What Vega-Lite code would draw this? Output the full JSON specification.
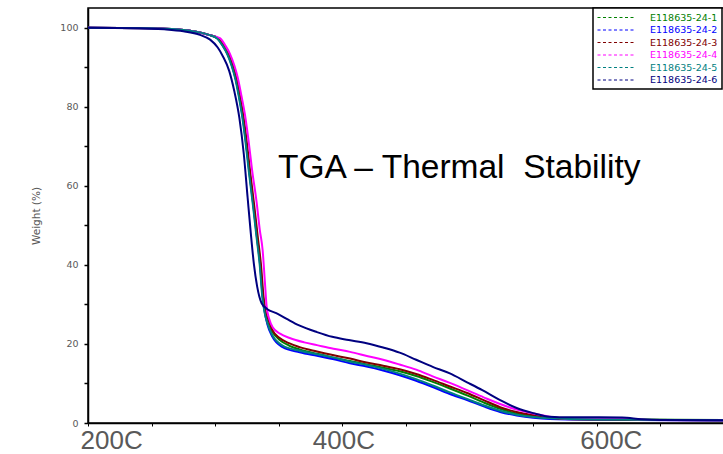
{
"$schema": "https://vega.github.io/schema/vega-lite/v6.json",
"width": 636, "height": 415,
"autosize": "none",
"padding": {"left": 88, "top": 8, "right": 0, "bottom": 31},
"background": "white",
"config": {"view": {"stroke": "black", "strokeWidth": 1.5}, "axis": {"grid": false}},
"layer": [
{
"data": {"values": [
{"s":"E118635-24-1","T":200,"W":100},{"s":"E118635-24-1","T":250,"W":99.9},{"s":"E118635-24-1","T":270,"W":99.6},{"s":"E118635-24-1","T":285,"W":99.0},{"s":"E118635-24-1","T":295,"W":98.2},{"s":"E118635-24-1","T":302,"W":97.3},{"s":"E118635-24-1","T":306,"W":95.6},{"s":"E118635-24-1","T":310,"W":93.3},{"s":"E118635-24-1","T":313.5,"W":90.3},{"s":"E118635-24-1","T":316.5,"W":86.8},{"s":"E118635-24-1","T":319,"W":82.7},{"s":"E118635-24-1","T":321.5,"W":78},{"s":"E118635-24-1","T":324,"W":72},{"s":"E118635-24-1","T":327,"W":63.5},{"s":"E118635-24-1","T":330,"W":55.5},{"s":"E118635-24-1","T":333,"W":47},{"s":"E118635-24-1","T":335.5,"W":40},{"s":"E118635-24-1","T":337.5,"W":32},{"s":"E118635-24-1","T":339.2,"W":28},{"s":"E118635-24-1","T":341,"W":25.6},{"s":"E118635-24-1","T":345,"W":23.0},{"s":"E118635-24-1","T":350.7,"W":21.0},{"s":"E118635-24-1","T":358,"W":19.6},{"s":"E118635-24-1","T":366.4,"W":18.6},{"s":"E118635-24-1","T":380,"W":17.5},{"s":"E118635-24-1","T":392,"W":16.6},{"s":"E118635-24-1","T":406,"W":15.7},{"s":"E118635-24-1","T":419,"W":14.8},{"s":"E118635-24-1","T":432,"W":14.0},{"s":"E118635-24-1","T":445,"W":13.1},{"s":"E118635-24-1","T":458,"W":11.9},{"s":"E118635-24-1","T":471,"W":10.4},{"s":"E118635-24-1","T":484,"W":8.8},{"s":"E118635-24-1","T":498,"W":7.0},{"s":"E118635-24-1","T":511,"W":5.2},{"s":"E118635-24-1","T":524,"W":3.6},{"s":"E118635-24-1","T":537,"W":2.4},{"s":"E118635-24-1","T":550,"W":1.7},{"s":"E118635-24-1","T":563,"W":1.3},{"s":"E118635-24-1","T":575,"W":1.1},{"s":"E118635-24-1","T":620,"W":0.9},{"s":"E118635-24-1","T":700,"W":0.75},
{"s":"E118635-24-2","T":200,"W":100},{"s":"E118635-24-2","T":250,"W":99.9},{"s":"E118635-24-2","T":270,"W":99.6},{"s":"E118635-24-2","T":285,"W":99.0},{"s":"E118635-24-2","T":295,"W":98.2},{"s":"E118635-24-2","T":301.8,"W":97.3},{"s":"E118635-24-2","T":305.8,"W":95.6},{"s":"E118635-24-2","T":309.8,"W":93.3},{"s":"E118635-24-2","T":313.3,"W":90.3},{"s":"E118635-24-2","T":316.3,"W":86.8},{"s":"E118635-24-2","T":318.8,"W":82.7},{"s":"E118635-24-2","T":321.3,"W":78},{"s":"E118635-24-2","T":323.8,"W":72},{"s":"E118635-24-2","T":326.8,"W":63.5},{"s":"E118635-24-2","T":329.8,"W":55.5},{"s":"E118635-24-2","T":332.8,"W":47},{"s":"E118635-24-2","T":335.3,"W":40},{"s":"E118635-24-2","T":337.3,"W":32},{"s":"E118635-24-2","T":339,"W":28},{"s":"E118635-24-2","T":341,"W":25.0},{"s":"E118635-24-2","T":345,"W":21.8},{"s":"E118635-24-2","T":353,"W":19.2},{"s":"E118635-24-2","T":366.4,"W":17.9},{"s":"E118635-24-2","T":380,"W":17.0},{"s":"E118635-24-2","T":392.4,"W":16.2},{"s":"E118635-24-2","T":406,"W":15.1},{"s":"E118635-24-2","T":419,"W":14.3},{"s":"E118635-24-2","T":432,"W":13.3},{"s":"E118635-24-2","T":445,"W":12.1},{"s":"E118635-24-2","T":458,"W":10.7},{"s":"E118635-24-2","T":471,"W":9.1},{"s":"E118635-24-2","T":484,"W":7.4},{"s":"E118635-24-2","T":498,"W":5.8},{"s":"E118635-24-2","T":511,"W":4.2},{"s":"E118635-24-2","T":524,"W":2.8},{"s":"E118635-24-2","T":537,"W":1.9},{"s":"E118635-24-2","T":550,"W":1.3},{"s":"E118635-24-2","T":563,"W":1.0},{"s":"E118635-24-2","T":600,"W":0.8},{"s":"E118635-24-2","T":700,"W":0.65},
{"s":"E118635-24-3","T":200,"W":100},{"s":"E118635-24-3","T":250,"W":99.9},{"s":"E118635-24-3","T":270,"W":99.6},{"s":"E118635-24-3","T":285,"W":99.0},{"s":"E118635-24-3","T":295,"W":98.2},{"s":"E118635-24-3","T":302.5,"W":97.3},{"s":"E118635-24-3","T":306.5,"W":95.6},{"s":"E118635-24-3","T":310.5,"W":93.3},{"s":"E118635-24-3","T":314,"W":90.3},{"s":"E118635-24-3","T":317,"W":86.8},{"s":"E118635-24-3","T":319.5,"W":82.7},{"s":"E118635-24-3","T":322,"W":78},{"s":"E118635-24-3","T":324.5,"W":72},{"s":"E118635-24-3","T":327.5,"W":63.5},{"s":"E118635-24-3","T":330.5,"W":55.5},{"s":"E118635-24-3","T":333.5,"W":47},{"s":"E118635-24-3","T":336,"W":40},{"s":"E118635-24-3","T":338,"W":32},{"s":"E118635-24-3","T":339.8,"W":28},{"s":"E118635-24-3","T":341.8,"W":26.2},{"s":"E118635-24-3","T":345,"W":23.5},{"s":"E118635-24-3","T":350.7,"W":21.5},{"s":"E118635-24-3","T":358,"W":20.2},{"s":"E118635-24-3","T":366.4,"W":19.2},{"s":"E118635-24-3","T":380,"W":18.1},{"s":"E118635-24-3","T":392.4,"W":17.2},{"s":"E118635-24-3","T":406,"W":16.3},{"s":"E118635-24-3","T":419,"W":15.3},{"s":"E118635-24-3","T":432,"W":14.5},{"s":"E118635-24-3","T":445,"W":13.6},{"s":"E118635-24-3","T":458,"W":12.4},{"s":"E118635-24-3","T":471,"W":10.9},{"s":"E118635-24-3","T":484,"W":9.3},{"s":"E118635-24-3","T":498,"W":7.6},{"s":"E118635-24-3","T":511,"W":5.8},{"s":"E118635-24-3","T":524,"W":4.0},{"s":"E118635-24-3","T":537,"W":2.8},{"s":"E118635-24-3","T":550,"W":2.0},{"s":"E118635-24-3","T":563,"W":1.4},{"s":"E118635-24-3","T":575,"W":1.0},{"s":"E118635-24-3","T":620,"W":0.85},{"s":"E118635-24-3","T":700,"W":0.7},
{"s":"E118635-24-4","T":200,"W":100},{"s":"E118635-24-4","T":250,"W":99.9},{"s":"E118635-24-4","T":270,"W":99.6},{"s":"E118635-24-4","T":285,"W":99.0},{"s":"E118635-24-4","T":295,"W":98.2},{"s":"E118635-24-4","T":303.7,"W":97.4},{"s":"E118635-24-4","T":308,"W":95.5},{"s":"E118635-24-4","T":311.6,"W":93.4},{"s":"E118635-24-4","T":315,"W":90.5},{"s":"E118635-24-4","T":317.8,"W":87.3},{"s":"E118635-24-4","T":320.5,"W":83},{"s":"E118635-24-4","T":323.3,"W":78.2},{"s":"E118635-24-4","T":326,"W":72},{"s":"E118635-24-4","T":329,"W":64},{"s":"E118635-24-4","T":332.5,"W":56},{"s":"E118635-24-4","T":335,"W":49},{"s":"E118635-24-4","T":337.3,"W":43.7},{"s":"E118635-24-4","T":339,"W":36},{"s":"E118635-24-4","T":340.5,"W":29.3},{"s":"E118635-24-4","T":342.5,"W":26.3},{"s":"E118635-24-4","T":345.2,"W":24.2},{"s":"E118635-24-4","T":351,"W":22.6},{"s":"E118635-24-4","T":358.6,"W":21.5},{"s":"E118635-24-4","T":370,"W":20.4},{"s":"E118635-24-4","T":380,"W":19.7},{"s":"E118635-24-4","T":393,"W":18.8},{"s":"E118635-24-4","T":406,"W":18.0},{"s":"E118635-24-4","T":420,"W":16.9},{"s":"E118635-24-4","T":432,"W":16.0},{"s":"E118635-24-4","T":445,"W":14.8},{"s":"E118635-24-4","T":458,"W":13.5},{"s":"E118635-24-4","T":471,"W":11.8},{"s":"E118635-24-4","T":484,"W":10.2},{"s":"E118635-24-4","T":498,"W":8.3},{"s":"E118635-24-4","T":511,"W":6.5},{"s":"E118635-24-4","T":524,"W":4.8},{"s":"E118635-24-4","T":537,"W":3.4},{"s":"E118635-24-4","T":550,"W":2.4},{"s":"E118635-24-4","T":563,"W":1.6},{"s":"E118635-24-4","T":575,"W":1.1},{"s":"E118635-24-4","T":625,"W":1.0},{"s":"E118635-24-4","T":640,"W":0.75},{"s":"E118635-24-4","T":700,"W":0.7},
{"s":"E118635-24-5","T":200,"W":100},{"s":"E118635-24-5","T":250,"W":99.9},{"s":"E118635-24-5","T":270,"W":99.6},{"s":"E118635-24-5","T":285,"W":99.0},{"s":"E118635-24-5","T":295,"W":98.2},{"s":"E118635-24-5","T":301.5,"W":97.3},{"s":"E118635-24-5","T":305.5,"W":95.6},{"s":"E118635-24-5","T":309.5,"W":93.3},{"s":"E118635-24-5","T":313,"W":90.3},{"s":"E118635-24-5","T":316,"W":86.8},{"s":"E118635-24-5","T":318.5,"W":82.7},{"s":"E118635-24-5","T":321,"W":78},{"s":"E118635-24-5","T":323.5,"W":72},{"s":"E118635-24-5","T":326.5,"W":63.5},{"s":"E118635-24-5","T":329.5,"W":55.5},{"s":"E118635-24-5","T":332.5,"W":47},{"s":"E118635-24-5","T":335,"W":40},{"s":"E118635-24-5","T":337,"W":32},{"s":"E118635-24-5","T":338.8,"W":28},{"s":"E118635-24-5","T":341,"W":25.3},{"s":"E118635-24-5","T":345,"W":22.2},{"s":"E118635-24-5","T":353,"W":19.6},{"s":"E118635-24-5","T":366.4,"W":18.3},{"s":"E118635-24-5","T":380,"W":17.4},{"s":"E118635-24-5","T":392.4,"W":16.6},{"s":"E118635-24-5","T":406,"W":15.5},{"s":"E118635-24-5","T":419,"W":14.7},{"s":"E118635-24-5","T":432,"W":13.7},{"s":"E118635-24-5","T":445,"W":12.5},{"s":"E118635-24-5","T":458,"W":11.1},{"s":"E118635-24-5","T":471,"W":9.5},{"s":"E118635-24-5","T":484,"W":7.8},{"s":"E118635-24-5","T":498,"W":6.1},{"s":"E118635-24-5","T":511,"W":4.5},{"s":"E118635-24-5","T":524,"W":3.1},{"s":"E118635-24-5","T":537,"W":2.1},{"s":"E118635-24-5","T":550,"W":1.5},{"s":"E118635-24-5","T":563,"W":1.2},{"s":"E118635-24-5","T":600,"W":0.9},{"s":"E118635-24-5","T":700,"W":0.7},
{"s":"E118635-24-6","T":200,"W":100},{"s":"E118635-24-6","T":240,"W":99.9},{"s":"E118635-24-6","T":260,"W":99.6},{"s":"E118635-24-6","T":275,"W":99.1},{"s":"E118635-24-6","T":288,"W":98.2},{"s":"E118635-24-6","T":296,"W":97.0},{"s":"E118635-24-6","T":302,"W":95.0},{"s":"E118635-24-6","T":306,"W":92.8},{"s":"E118635-24-6","T":311,"W":89.1},{"s":"E118635-24-6","T":315,"W":84.0},{"s":"E118635-24-6","T":319,"W":77.2},{"s":"E118635-24-6","T":322.5,"W":68},{"s":"E118635-24-6","T":325.5,"W":57},{"s":"E118635-24-6","T":328,"W":48},{"s":"E118635-24-6","T":330.5,"W":40},{"s":"E118635-24-6","T":333,"W":34.5},{"s":"E118635-24-6","T":336.5,"W":30.3},{"s":"E118635-24-6","T":341,"W":28.8},{"s":"E118635-24-6","T":348,"W":27.8},{"s":"E118635-24-6","T":357,"W":26.2},{"s":"E118635-24-6","T":366,"W":24.7},{"s":"E118635-24-6","T":380,"W":23.0},{"s":"E118635-24-6","T":392,"W":21.8},{"s":"E118635-24-6","T":405,"W":21.0},{"s":"E118635-24-6","T":419,"W":20.2},{"s":"E118635-24-6","T":432,"W":19.1},{"s":"E118635-24-6","T":445,"W":17.8},{"s":"E118635-24-6","T":458,"W":16.0},{"s":"E118635-24-6","T":471,"W":14.2},{"s":"E118635-24-6","T":484,"W":12.6},{"s":"E118635-24-6","T":498,"W":10.3},{"s":"E118635-24-6","T":510,"W":8.3},{"s":"E118635-24-6","T":524,"W":5.8},{"s":"E118635-24-6","T":537,"W":3.8},{"s":"E118635-24-6","T":550,"W":2.5},{"s":"E118635-24-6","T":563,"W":1.6},{"s":"E118635-24-6","T":580,"W":1.45},{"s":"E118635-24-6","T":620,"W":1.4},{"s":"E118635-24-6","T":635,"W":0.95},{"s":"E118635-24-6","T":650,"W":0.75},{"s":"E118635-24-6","T":700,"W":0.7}
]},
"mark": {"type": "line", "strokeWidth": 2, "interpolate": "monotone", "clip": true},
"encoding": {
"x": {"field": "T", "type": "quantitative", "scale": {"domain": [200, 700], "nice": false, "zero": false},
"axis": {"title": null, "values": [200,250,300,350,400,450,500,550,600,650,700], "labelExpr": "datum.value == 200 || datum.value == 400 || datum.value == 600 ? datum.value + 'C' : ''", "labelFont": "Liberation Sans", "labelFontSize": 26, "labelColor": "#595959", "labelBaseline": "alphabetic", "labelPadding": 22, "labelFlush": true, "labelOverlap": false, "tickSize": 3, "tickColor": "black", "domainColor": "black", "domainWidth": 1.5,
"labelOffset": {"expr": "datum.value == 200 ? -8 : datum.value == 600 ? 14 : 1"}}},
"y": {"field": "W", "type": "quantitative", "scale": {"domain": [0, 105], "nice": false},
"axis": {"title": "Weight (%)", "values": [0,5,10,15,20,25,30,35,40,45,50,55,60,65,70,75,80,85,90,95,100], "labelExpr": "datum.value % 20 == 0 ? datum.value : ''", "labelFont": "DejaVu Sans", "labelFontSize": 9.5, "labelColor": "#595959", "labelPadding": 6, "labelOverlap": false, "tickSize": 4, "tickColor": "black", "tickWidth": 1.5, "domainColor": "black", "domainWidth": 1.5, "titleFont": "DejaVu Sans", "titleFontSize": 10.5, "titleFontWeight": "normal", "titleColor": "#595959", "titlePadding": 18}},
"color": {"field": "s", "type": "nominal",
"scale": {"domain": ["E118635-24-1","E118635-24-2","E118635-24-3","E118635-24-4","E118635-24-5","E118635-24-6"], "range": ["#008000","#0000ff","#800000","#ff00ff","#008080","#000080"]},
"legend": {"title": null, "orient": "none", "legendX": 505, "legendY": 0, "symbolType": "M-3.8,0H3.8", "symbolSize": 100, "symbolDash": [3, 2.5], "symbolStrokeWidth": 1, "symbolOffset": 14, "labelOffset": 28, "labelFont": "DejaVu Sans", "labelFontSize": 9.5, "rowPadding": 2.5, "padding": 4, "strokeColor": "black", "fillColor": "white",
"encode": {"legend": {"update": {"strokeWidth": {"value": 1.5}}}, "labels": {"update": {"fill": {"signal": "scale('color', datum.value)"}}}}}}
}
},
{
"data": {"values": [{"label": "TGA – Thermal\u00a0 Stability"}]},
"mark": {"type": "text", "align": "left", "baseline": "alphabetic", "font": "Liberation Sans", "fontSize": 33.5, "color": "black"},
"encoding": {"x": {"datum": 349.4}, "y": {"datum": 61.9}, "text": {"field": "label"}}
}
]
}
